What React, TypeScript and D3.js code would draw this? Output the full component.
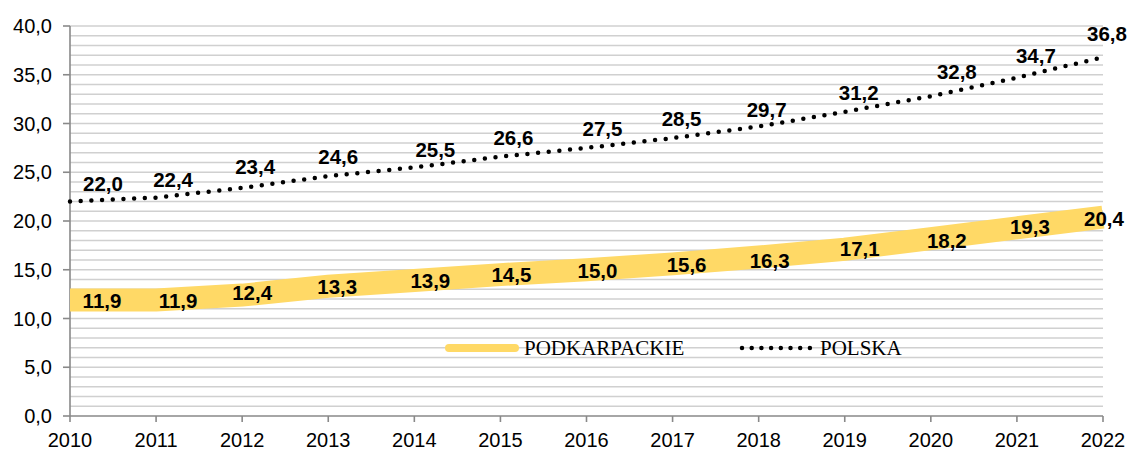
import React from "react";
import * as d3 from "d3";

const years = [2010, 2011, 2012, 2013, 2014, 2015, 2016, 2017, 2018, 2019, 2020, 2021, 2022];
const podkarpackie = [11.9, 11.9, 12.4, 13.3, 13.9, 14.5, 15.0, 15.6, 16.3, 17.1, 18.2, 19.3, 20.4];
const polska = [22.0, 22.4, 23.4, 24.6, 25.5, 26.6, 27.5, 28.5, 29.7, 31.2, 32.8, 34.7, 36.8];
const yTicks = [0, 5, 10, 15, 20, 25, 30, 35, 40];
const seriesNames = ["PODKARPACKIE", "POLSKA"];

// hand-placed label nudges (px) as in the source spreadsheet
const podkLabelDx = [32, 22, 10, 9, 16, 11, 11, 14, 11, 15, 16, 13, 1];
const podkLabelDy = [1, 1, -2, 0, 0, 0, 1, 1, 4, 0, 2, -1, 2];
const polLabelDx = [33, 17, 13, 10, 21, 13, 16, 9, 8, 14, 26, 19, 4];
const polLabelDy = [-18, -18, -21, -19, -18, -19, -19, -19, -17, -19, -24, -22, -23];

const W = 1130;
const H = 451;
const left = 70;
const right = 1103;
const top = 26;
const bottom = 416;

const fmt = (v: number) => d3.format(".1f")(v).replace(".", ",");

export default function App() {
  const x = d3.scaleLinear().domain([2010, 2022]).range([left, right]);
  const y = d3.scaleLinear().domain([0, 40]).range([bottom, top]);
  const line = d3
    .line<number>()
    .x((_, i) => x(years[i]))
    .y((d) => y(d));
  const grid = d3.range(1, 41);

  const labelFont = { fontFamily: "Liberation Sans, Arial, sans-serif", fontWeight: 700, fontSize: "20.5px" };
  const tickFont = { fontFamily: "Liberation Sans, Arial, sans-serif", fontSize: "20px" };
  const legendFont = { fontFamily: "Liberation Serif, Times New Roman, serif", fontSize: "21px" };

  return (
    <svg width={W} height={H} style={{ position: "absolute", left: 0, top: 0, background: "#fff" }}>
      {/* gridlines */}
      {grid.map((g) => (
        <line key={g} x1={left} x2={right} y1={y(g)} y2={y(g)} stroke="#d0d0d0" strokeWidth={1.6} />
      ))}

      {/* axes */}
      <line x1={left} x2={left} y1={top} y2={bottom} stroke="#898989" strokeWidth={1.6} />
      <line x1={left} x2={right} y1={bottom} y2={bottom} stroke="#898989" strokeWidth={1.6} />
      {yTicks.map((t) => (
        <g key={t}>
          <line x1={left - 7} x2={left} y1={y(t)} y2={y(t)} stroke="#898989" strokeWidth={1.6} />
          <text x={52} y={y(t)} dy="0.35em" textAnchor="end" fill="#000" style={tickFont}>
            {fmt(t)}
          </text>
        </g>
      ))}
      {years.map((yr) => (
        <g key={yr}>
          <line x1={x(yr)} x2={x(yr)} y1={bottom} y2={bottom + 6} stroke="#898989" strokeWidth={1.6} />
          <text x={x(yr)} y={447} textAnchor="middle" fill="#000" style={tickFont}>
            {yr}
          </text>
        </g>
      ))}

      {/* PODKARPACKIE band */}
      <path d={line(podkarpackie) || ""} fill="none" stroke="#FFD966" strokeWidth={23} strokeLinecap="butt" />

      {/* POLSKA dotted */}
      <path
        d={line(polska) || ""}
        fill="none"
        stroke="#000"
        strokeWidth={4.5}
        strokeLinecap="round"
        strokeDasharray="0 10.7"
      />

      {/* labels */}
      {podkarpackie.map((v, i) => (
        <text
          key={"pk" + i}
          x={x(years[i]) + podkLabelDx[i]}
          y={y(v) + podkLabelDy[i]}
          dy="0.35em"
          textAnchor="middle"
          fill="#000"
          style={labelFont}
        >
          {fmt(v)}
        </text>
      ))}
      {polska.map((v, i) => (
        <text
          key={"pl" + i}
          x={x(years[i]) + polLabelDx[i]}
          y={y(v) + polLabelDy[i]}
          dy="0.35em"
          textAnchor="middle"
          fill="#000"
          style={labelFont}
        >
          {fmt(v)}
        </text>
      ))}

      {/* legend */}
      <g>
        <line x1={449} x2={515} y1={348} y2={348} stroke="#FFD966" strokeWidth={8} strokeLinecap="round" />
        <text x={524} y={355} fill="#000" style={legendFont}>
          {seriesNames[0]}
        </text>
        <line
          x1={742}
          x2={812}
          y1={348}
          y2={348}
          stroke="#000"
          strokeWidth={4.5}
          strokeLinecap="round"
          strokeDasharray="0 9.7"
        />
        <text x={820} y={355} fill="#000" style={legendFont}>
          {seriesNames[1]}
        </text>
      </g>
    </svg>
  );
}
